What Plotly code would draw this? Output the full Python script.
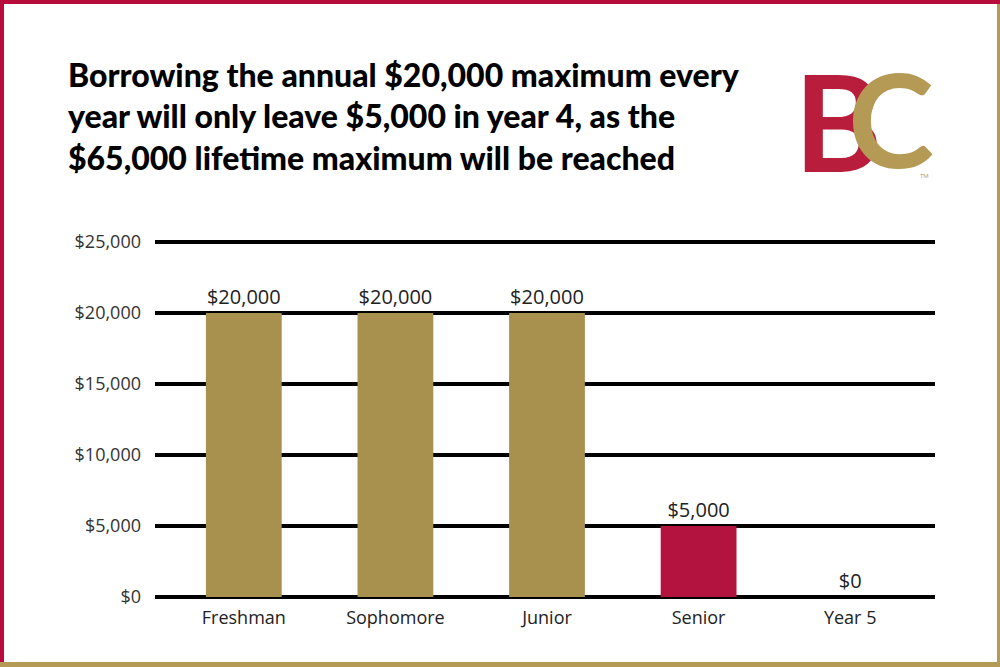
import plotly.graph_objects as go

years = ["Freshman", "Sophomore", "Junior", "Senior", "Year 5"]
borrowed = [20000, 20000, 20000, 5000, 0]
bar_colors = ["#A8904F", "#A8904F", "#A8904F", "#B3143F", "#A8904F"]
tick_vals = [0, 5000, 10000, 15000, 20000, 25000]
tick_text = ["$0", "$5,000", "$10,000", "$15,000", "$20,000", "$25,000"]
y_max = 25000

W, H = 1000, 667
ML, MR, MT, MB = 168, 74, 242, 70
pw, ph = W - ML - MR, H - MT - MB

def px(x):
    return (x - ML) / pw

def py(y):
    return (H - MB - y) / ph

fig = go.Figure()
fig.add_trace(go.Bar(
    x=years, y=borrowed,
    marker=dict(color=bar_colors, line=dict(width=0)),
    width=0.5,
    text=["$" + format(v, ",") for v in borrowed],
    textposition="outside",
    textfont=dict(family="Open Sans", size=20, color="#222"),
    cliponaxis=False,
))

fig.update_layout(
    width=W, height=H,
    paper_bgcolor="white", plot_bgcolor="white",
    margin=dict(l=ML, r=MR, t=MT, b=MB, autoexpand=False),
    showlegend=False,
    font=dict(family="Open Sans", size=18, color="#333"),
    xaxis=dict(showgrid=False, showline=False, ticks="", automargin=False,
               ticklabelstandoff=8, tickfont=dict(size=18, color="#222")),
    yaxis=dict(range=[0, y_max], tickvals=tick_vals, ticktext=tick_text, automargin=False,
               showgrid=False, zeroline=False,
               ticks="", ticklabelstandoff=26, tickfont=dict(size=18, color="#333")),
    title=dict(
        text="Borrowing the annual $20,000 maximum every<br>year will only leave $5,000 in year 4, as the<br>$65,000 lifetime maximum will be reached",
        x=0.068, xanchor="left", y=0.87, yanchor="top",
        font=dict(family="Lato", size=32, color="black", weight=900),
    ),
)
# thick gridlines (paper space so the top and bottom ones are not clipped)
for v in tick_vals:
    fig.add_shape(type="line", xref="paper", yref="paper", x0=px(155), x1=px(935),
                  y0=v / y_max, y1=v / y_max, line=dict(color="black", width=4), layer="below")
# page borders
fig.add_shape(type="rect", xref="paper", yref="paper", x0=px(0), x1=px(1000), y0=py(0), y1=py(4),
              fillcolor="#B80C3C", line_width=0)
fig.add_shape(type="rect", xref="paper", yref="paper", x0=px(0), x1=px(4), y0=py(0), y1=py(663),
              fillcolor="#B80C3C", line_width=0)
fig.add_shape(type="rect", xref="paper", yref="paper", x0=px(0), x1=px(1000), y0=py(662), y1=py(667),
              fillcolor="#B59A56", line_width=0)
fig.add_shape(type="rect", xref="paper", yref="paper", x0=px(997), x1=px(1000), y0=py(4), y1=py(667),
              fillcolor="#B59A56", line_width=0)
# logo
fig.add_annotation(xref="paper", yref="paper", x=px(884), y=py(38), text="B", showarrow=False,
                   font=dict(family="Lato", size=134, color="#B81E3C", weight=700))
fig.add_annotation(xref="paper", yref="paper", x=px(936), y=py(38), text="C", showarrow=False,
                   font=dict(family="Lato", size=130, color="#B59A56", weight=700))
fig.add_annotation(xref="paper", yref="paper", x=px(931), y=py(170), text="TM", showarrow=False,
                   font=dict(family="Open Sans", size=6, color="#B59A56"))

fig.write_html("out.html", config={"displayModeBar": False},
               post_script="document.body.style.margin='0';")
